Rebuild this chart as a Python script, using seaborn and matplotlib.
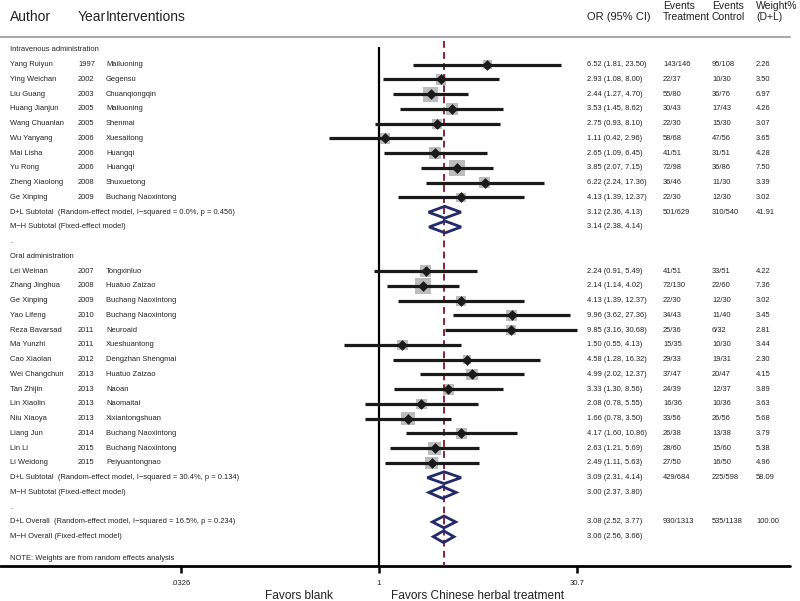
import numpy as np
import pandas as pd
import matplotlib
matplotlib.use("Agg")
import matplotlib.pyplot as plt
import matplotlib.transforms as mtransforms
import seaborn as sns

# study level data, intravenous administration
iv_author = ["Yang Ruiyun", "Ying Weichan", "Liu Guang", "Huang Jianjun", "Wang Chuanlan",
             "Wu Yanyang", "Mai Lisha", "Yu Rong", "Zheng Xiaolong", "Ge Xinping"]
iv_year = [1997, 2002, 2003, 2005, 2005, 2006, 2006, 2006, 2008, 2009]
iv_interv = ["Mailuoning", "Gegensu", "Chuanqiongqin", "Mailuoning", "Shenmai",
             "Xuesaitong", "Huangqi", "Huangqi", "Shuxuetong", "Buchang Naoxintong"]
iv_or = [6.52, 2.93, 2.44, 3.53, 2.75, 1.11, 2.65, 3.85, 6.22, 4.13]
iv_lo = [1.81, 1.08, 1.27, 1.45, 0.93, 0.42, 1.09, 2.07, 2.24, 1.39]
iv_hi = [23.50, 8.00, 4.70, 8.62, 8.10, 2.96, 6.45, 7.15, 17.36, 12.37]
iv_ev_t = ["143/146", "22/37", "55/80", "30/43", "22/30", "58/68", "41/51", "72/98", "36/46", "22/30"]
iv_ev_c = ["95/108", "10/30", "36/76", "17/43", "15/30", "47/56", "31/51", "36/86", "11/30", "12/30"]
iv_weight = [2.26, 3.50, 6.97, 4.26, 3.07, 3.65, 4.28, 7.50, 3.39, 3.02]

# study level data, oral administration
oral_author = ["Lei Weinan", "Zhang Jinghua", "Ge Xinping", "Yao Lifeng", "Reza Bavarsad",
               "Ma Yunzhi", "Cao Xiaolan", "Wei Changchun", "Tan Zhijin", "Lin Xiaolin",
               "Niu Xiaoya", "Liang Jun", "Lin Li", "Li Weidong"]
oral_year = [2007, 2008, 2009, 2010, 2011, 2011, 2012, 2013, 2013, 2013, 2013, 2014, 2015, 2015]
oral_interv = ["Tongxinluo", "Huatuo Zaizao", "Buchang Naoxintong", "Buchang Naoxintong",
               "Neuroaid", "Xueshuantong", "Dengzhan Shengmai", "Huatuo Zaizao", "Naoan",
               "Naomaitai", "Xixiantongshuan", "Buchang Naoxintong", "Buchang Naoxintong",
               "Peiyuantongnao"]
oral_or = [2.24, 2.14, 4.13, 9.96, 9.85, 1.50, 4.58, 4.99, 3.33, 2.08, 1.66, 4.17, 2.63, 2.49]
oral_lo = [0.91, 1.14, 1.39, 3.62, 3.16, 0.55, 1.28, 2.02, 1.30, 0.78, 0.78, 1.60, 1.21, 1.11]
oral_hi = [5.49, 4.02, 12.37, 27.36, 30.68, 4.13, 16.32, 12.37, 8.56, 5.55, 3.50, 10.86, 5.69, 5.63]
oral_ev_t = ["41/51", "72/130", "22/30", "34/43", "25/36", "15/35", "29/33", "37/47", "24/39",
             "16/36", "33/56", "26/38", "28/60", "27/50"]
oral_ev_c = ["33/51", "22/60", "12/30", "11/40", "6/32", "10/30", "19/31", "20/47", "12/37",
             "10/36", "26/56", "13/38", "15/60", "16/50"]
oral_weight = [4.22, 7.36, 3.02, 3.45, 2.81, 3.44, 2.30, 4.15, 3.89, 3.63, 5.68, 3.79, 5.38, 4.96]

# pooled estimates
sum_label = ["D+L Subtotal  (Random-effect model, I\u2212squared = 0.0%, p = 0.456)",
             "M\u2212H Subtotal (Fixed-effect model)",
             "D+L Subtotal  (Random-effect model, I\u2212squared = 30.4%, p = 0.134)",
             "M\u2212H Subtotal (Fixed-effect model)",
             "D+L Overall  (Random-effect model, I\u2212squared = 16.5%, p = 0.234)",
             "M\u2212H Overall (Fixed-effect model)"]
sum_or = [3.12, 3.14, 3.09, 3.00, 3.08, 3.06]
sum_lo = [2.36, 2.38, 2.31, 2.37, 2.52, 2.56]
sum_hi = [4.13, 4.14, 4.14, 3.80, 3.77, 3.66]
sum_ev_t = ["501/629", "", "429/684", "", "930/1313", ""]
sum_ev_c = ["310/540", "", "225/598", "", "535/1138", ""]
sum_weight = ["41.91", "", "58.09", "", "100.00", ""]

# axis ticks
tick_vals = [0.0326, 1, 30.7]
tick_labels = [".0326", "1", "30.7"]

# rows
iv_rows = list(range(1, 11))
oral_rows = list(range(15, 29))
sum_rows = [11, 12, 29, 30, 32, 33]

studies = pd.DataFrame({
    "author": iv_author + oral_author,
    "year": iv_year + oral_year,
    "interv": iv_interv + oral_interv,
    "OR": iv_or + oral_or,
    "lo": iv_lo + oral_lo,
    "hi": iv_hi + oral_hi,
    "ev_t": iv_ev_t + oral_ev_t,
    "ev_c": iv_ev_c + oral_ev_c,
    "weight": iv_weight + oral_weight,
    "row": iv_rows + oral_rows,
})

sns.set_style("white")
plt.rcParams["font.family"] = ["Liberation Sans", "DejaVu Sans"]
plt.rcParams["text.color"] = "#222222"

fig = plt.figure(figsize=(8, 6.01), dpi=100)
ax = fig.add_axes([0, 0, 1, 1])
ax.set_xscale("log")
ax.set_xlim(10 ** (-379 / 133), 10 ** (421 / 133))
ax.set_ylim(37.36, -3.39)
ax.axis("off")

tr = mtransforms.blended_transform_factory(ax.transAxes, ax.transData)
W = 800.0
small = 5.4

# headers
ax.text(10 / W, -2.25, "Author", transform=tr, fontsize=10, va="center")
ax.text(78 / W, -2.25, "Year", transform=tr, fontsize=10, va="center")
ax.text(106 / W, -2.25, "Interventions", transform=tr, fontsize=10, va="center")
ax.text(587 / W, -2.25, "OR (95% CI)", transform=tr, fontsize=8, va="center")
ax.text(663 / W, -3.0, "Events", transform=tr, fontsize=7.5, va="center")
ax.text(663 / W, -2.25, "Treatment", transform=tr, fontsize=7.5, va="center")
ax.text(712 / W, -3.0, "Events", transform=tr, fontsize=7.5, va="center")
ax.text(712 / W, -2.25, "Control", transform=tr, fontsize=7.5, va="center")
ax.text(756 / W, -3.0, "Weight%", transform=tr, fontsize=7.5, va="center")
ax.text(756 / W, -2.25, "(D+L)", transform=tr, fontsize=7.5, va="center")
ax.plot([0, 790 / W], [-0.88, -0.88], transform=tr, color="#aaaaaa", lw=1.5)

# group labels and spacer dots
ax.text(10 / W, 0, "Intravenous administration", transform=tr, fontsize=small, va="center")
ax.text(10 / W, 14, "Oral administration", transform=tr, fontsize=small, va="center")
for r in [13, 31]:
    ax.text(10 / W, r, ".", transform=tr, fontsize=small, va="center")
ax.text(10 / W, 34.5, "NOTE: Weights are from random effects analysis", transform=tr,
        fontsize=small, va="center")

# study rows text
for _, s in studies.iterrows():
    r = s["row"]
    ax.text(10 / W, r, s["author"], transform=tr, fontsize=small, va="center")
    ax.text(78 / W, r, str(s["year"]), transform=tr, fontsize=small, va="center")
    ax.text(106 / W, r, s["interv"], transform=tr, fontsize=small, va="center")
    ax.text(587 / W, r, f"{s['OR']:.2f} ({s['lo']:.2f}, {s['hi']:.2f})", transform=tr,
            fontsize=small, va="center")
    ax.text(663 / W, r, s["ev_t"], transform=tr, fontsize=small, va="center")
    ax.text(712 / W, r, s["ev_c"], transform=tr, fontsize=small, va="center")
    ax.text(756 / W, r, f"{s['weight']:.2f}", transform=tr, fontsize=small, va="center")

# pooled rows text
for i, r in enumerate(sum_rows):
    ax.text(10 / W, r, sum_label[i], transform=tr, fontsize=small, va="center")
    ax.text(587 / W, r, f"{sum_or[i]:.2f} ({sum_lo[i]:.2f}, {sum_hi[i]:.2f})", transform=tr,
            fontsize=small, va="center")
    ax.text(663 / W, r, sum_ev_t[i], transform=tr, fontsize=small, va="center")
    ax.text(712 / W, r, sum_ev_c[i], transform=tr, fontsize=small, va="center")
    ax.text(756 / W, r, sum_weight[i], transform=tr, fontsize=small, va="center")

# null line and overall estimate line
ax.vlines(1, -0.2, 35, color="black", lw=1.6, zorder=2)
ax.vlines(sum_or[4], -0.6, 35, color="#8c2333", lw=1.4, linestyles=(0, (3.5, 2.2)), zorder=4)

# weight squares, CI lines and point estimates
wmin, wmax = studies["weight"].min(), studies["weight"].max()
sns.scatterplot(data=studies, x="OR", y="row", size="weight", sizes=(16.8 * wmin, 16.8 * wmax),
                size_norm=(wmin, wmax), marker="s", color="#bcbcbc", linewidth=0,
                legend=False, ax=ax, zorder=3)
ax.hlines(studies["row"], studies["lo"], studies["hi"], color="#1a1a1a", lw=2.3, zorder=5)
sns.scatterplot(data=studies, x="OR", y="row", marker="D", color="#1a1a1a", s=30,
                linewidth=0, legend=False, ax=ax, zorder=6)

# pooled diamonds
for i, r in enumerate(sum_rows):
    ax.fill([sum_lo[i], sum_or[i], sum_hi[i], sum_or[i]], [r, r - 0.4, r, r + 0.4],
            facecolor="none", edgecolor="#232a6b", lw=2.0, zorder=6)

# x axis
ax.plot([0, 790 / W], [35, 35], transform=tr, color="black", lw=2.0, clip_on=False)
ax.vlines(tick_vals, 35, 35.45, color="black", lw=1.8)
for v, lab in zip(tick_vals, tick_labels):
    ax.text(v, 36.15, lab, fontsize=5.6, ha="center", va="center")
ax.text(299 / W, 37.05, "Favors blank", transform=tr, fontsize=8.6, ha="center", va="center")
ax.text(478 / W, 37.05, "Favors Chinese herbal treatment", transform=tr, fontsize=8.6,
        ha="center", va="center")

fig.savefig("out.png", dpi=100)
